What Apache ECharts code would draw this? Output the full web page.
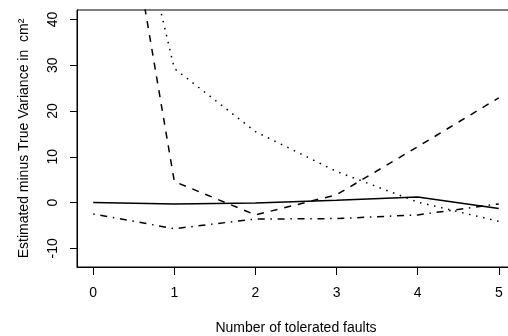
<!DOCTYPE html>
<html><head><meta charset="utf-8">
<script src="https://cdn.jsdelivr.net/npm/echarts@6/dist/echarts.min.js"></script>
<style>html,body{margin:0;padding:0;background:#fff}#c{width:508px;height:336px}</style>
</head><body><div id="c"></div>
<script>
// Data
const faults = [0, 1, 2, 3, 4, 5];
const solidVals   = [0, -0.3, -0.1, 0.5, 1.2, -1.3];
const dashedVals  = [109, 4.6, -2.7, 1.7, 12.2, 22.9];
const dottedVals  = [104, 29.3, 15.5, 6.8, 0.1, -4.1];
const dashDotVals = [-2.5, -5.7, -3.6, -3.5, -2.7, -0.3];
const xTicks = [0, 1, 2, 3, 4, 5];
const yTicks = [-10, 0, 10, 20, 30, 40];
const xTitle = 'Number of tolerated faults';
const yTitle = 'Estimated minus True Variance in  cm\u00B2';

const FONT = 'Liberation Sans';
const FS = 14;
const pairs = vals => faults.map((x, i) => [x, vals[i]]);

function lineSeries(vals, type) {
  return {
    type: 'line', data: pairs(vals), symbol: 'none', silent: true,
    lineStyle: { color: '#000', width: 1.5, type: type, cap: 'butt' }
  };
}

const chart = echarts.init(document.getElementById('c'), null, { renderer: 'canvas' });
chart.setOption({
  animation: false,
  backgroundColor: '#fff',
  grid: { left: 77, top: 10, width: 438, height: 257, containLabel: false, outerBoundsMode: 'none',
          show: true, borderColor: '#000', borderWidth: 1, backgroundColor: 'transparent' },
  xAxis: {
    type: 'value', min: -0.2, max: 5.2,
    splitLine: { show: false },
    axisLine: { show: true, onZero: false, lineStyle: { color: '#000', width: 1 } },
    axisTick: { show: true, length: 8, lineStyle: { color: '#000' }, customValues: xTicks },
    axisLabel: { customValues: xTicks, color: '#000', fontFamily: FONT, fontSize: FS, margin: 19 },
    name: xTitle, nameLocation: 'middle', nameGap: 54,
    nameTextStyle: { color: '#000', fontFamily: FONT, fontSize: FS }
  },
  yAxis: {
    type: 'value', min: -14.08, max: 42.08,
    splitLine: { show: false },
    axisLine: { show: true, onZero: false, lineStyle: { color: '#000', width: 1 } },
    axisTick: { show: true, length: 7, lineStyle: { color: '#000' }, customValues: yTicks },
    axisLabel: { customValues: yTicks, rotate: 90, color: '#000', fontFamily: FONT, fontSize: FS, margin: 17 },
    name: yTitle, nameLocation: 'middle', nameGap: 46, nameRotate: 90,
    nameTextStyle: { color: '#000', fontFamily: FONT, fontSize: FS }
  },
  series: [
    lineSeries(solidVals, 'solid'),
    lineSeries(dashedVals, [7, 7]),
    lineSeries(dottedVals, [1.5, 5.7]),
    lineSeries(dashDotVals, [1.5, 5.7, 7, 5.7])
  ]
});
</script>
</body></html>
